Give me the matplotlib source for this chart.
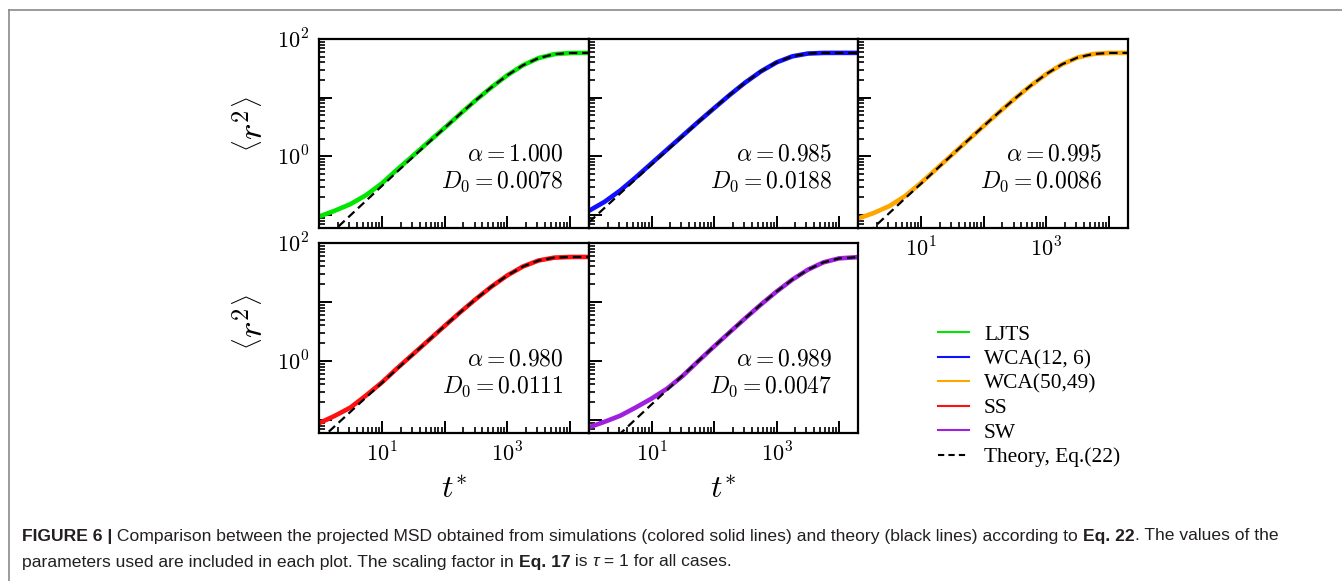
import numpy as np
import matplotlib
matplotlib.use('Agg')
import matplotlib.pyplot as plt
from matplotlib.lines import Line2D
from matplotlib.ticker import LogLocator, NullFormatter
from matplotlib.transforms import IdentityTransform
from matplotlib import font_manager

plt.rcParams['mathtext.fontset'] = 'cm'
plt.rcParams['font.family'] = 'serif'
plt.rcParams['font.serif'] = ['Liberation Serif', 'DejaVu Serif']

# ---------------- data ----------------
t_star = [1, 1.778, 3.162, 5.623, 10, 17.78, 31.62, 56.23, 100, 177.8, 316.2,
          562.3, 1000, 1778, 3162, 5623, 10000, 20000]

ljts_sim = [0.094, 0.118, 0.153, 0.218, 0.345, 0.60, 1.03, 1.78, 3.05, 5.29,
            9.08, 15.1, 24.1, 35.7, 47.4, 55.2, 57.7, 58.0]
ljts_theory = [0.0312, 0.0555, 0.0986, 0.175, 0.311, 0.552, 0.979, 1.728, 3.04,
               5.29, 9.08, 15.1, 24.1, 35.7, 47.4, 55.2, 57.7, 58.0]

wca126_sim = [0.118, 0.168, 0.262, 0.44, 0.76, 1.31, 2.26, 3.9, 6.61, 11.13,
              18.18, 28.1, 40.0, 50.6, 56.5, 57.9, 58.0, 58.0]
wca126_theory = [0.0752, 0.1325, 0.2332, 0.4108, 0.722, 1.266, 2.215, 3.85, 6.61,
                 11.13, 18.18, 28.1, 40.0, 50.6, 56.5, 57.9, 58.0, 58.0]

wca5049_sim = [0.087, 0.108, 0.142, 0.21, 0.35, 0.61, 1.07, 1.87, 3.27, 5.67,
               9.66, 16.0, 25.3, 37.0, 48.4, 55.6, 57.8, 58.0]
wca5049_theory = [0.0344, 0.061, 0.1081, 0.1915, 0.339, 0.600, 1.060, 1.866, 3.27,
                  5.67, 9.66, 16.0, 25.3, 37.0, 48.4, 55.6, 57.8, 58.0]

ss_sim = [0.088, 0.117, 0.162, 0.26, 0.43, 0.76, 1.31, 2.26, 3.91, 6.70, 11.25,
          18.3, 28.2, 40.0, 50.6, 56.5, 57.9, 58.0]
ss_theory = [0.0444, 0.078, 0.137, 0.2407, 0.4225, 0.741, 1.296, 2.259, 3.91, 6.70,
             11.25, 18.3, 28.2, 40.0, 50.6, 56.5, 57.9, 58.0]

sw_sim = [0.075, 0.093, 0.118, 0.163, 0.23, 0.34, 0.56, 1.0, 1.76, 3.07, 5.32,
          9.07, 15.05, 23.9, 35.3, 47.0, 54.9, 57.6]
sw_theory = [0.0188, 0.0332, 0.0587, 0.1037, 0.183, 0.3228, 0.5695, 1.002, 1.761,
             3.07, 5.32, 9.07, 15.05, 23.9, 35.3, 47.0, 54.9, 57.6]

series_names = ['LJTS', 'WCA(12, 6)', 'WCA(50,49)', 'SS', 'SW']
series_colors = ['#00e600', '#1010ff', '#ffa500', '#ff1010', '#a020e0']
alpha_labels = [r'$\alpha = 1.000$', r'$\alpha = 0.985$', r'$\alpha = 0.995$',
                r'$\alpha = 0.980$', r'$\alpha = 0.989$']
d0_labels = [r'$D_0 = 0.0078$', r'$D_0 = 0.0188$', r'$D_0 = 0.0086$',
             r'$D_0 = 0.0111$', r'$D_0 = 0.0047$']
theory_label = 'Theory, Eq.(22)'

x_major = [10, 100, 1000, 10000]
x_labels = ['$10^1$', '', '$10^3$', '']
y_major = [0.1, 1, 10, 100]
y_labels = ['', '$10^0$', '', '$10^2$']

sims = [ljts_sim, wca126_sim, wca5049_sim, ss_sim, sw_sim]
theories = [ljts_theory, wca126_theory, wca5049_theory, ss_theory, sw_theory]

# ---------------- layout ----------------
W, H = 1342, 581
fig = plt.figure(figsize=(W / 100, H / 100), dpi=100)
fig.patch.set_facecolor('white')


def rect(x0, y0, x1, y1):
    return [x0 / W, 1 - y1 / H, (x1 - x0) / W, (y1 - y0) / H]


panel_rects = [(319, 39, 589, 228), (589, 39, 858, 228), (858, 39, 1128, 228),
               (319, 243, 589, 433), (589, 243, 858, 433)]
show_ylab = [True, False, False, True, False]
show_xlab = [False, False, True, True, True]

for i in range(5):
    ax = fig.add_axes(rect(*panel_rects[i]))
    ax.set_xscale('log')
    ax.set_yscale('log')
    ax.plot(t_star, sims[i], color=series_colors[i], lw=3.3, solid_capstyle='butt', zorder=2)
    ax.plot(t_star, theories[i], color='black', lw=1.6, dashes=(3.8, 2.2), zorder=3)
    ax.set_xlim(1, 20000)
    ax.set_ylim(0.06, 100)
    ax.set_xticks(x_major)
    ax.set_xticklabels(x_labels)
    ax.set_yticks(y_major)
    ax.set_yticklabels(y_labels)
    ax.xaxis.set_minor_locator(LogLocator(base=10, subs=np.arange(2, 10), numticks=20))
    ax.yaxis.set_minor_locator(LogLocator(base=10, subs=np.arange(2, 10), numticks=20))
    ax.xaxis.set_minor_formatter(NullFormatter())
    ax.yaxis.set_minor_formatter(NullFormatter())
    ax.tick_params(which='both', direction='in', top=False, right=False,
                   labelleft=show_ylab[i], labelbottom=show_xlab[i],
                   labelsize=16, pad=7)
    ax.tick_params(which='major', length=9, width=1.4)
    ax.tick_params(which='minor', length=4.5, width=1.2)
    for sp in ax.spines.values():
        sp.set_linewidth(1.6)
    ax.text(0.905, 0.386, alpha_labels[i], transform=ax.transAxes, ha='right',
            va='center', fontsize=17)
    ax.text(0.905, 0.243, d0_labels[i], transform=ax.transAxes, ha='right',
            va='center', fontsize=17)

# axis labels
for yc in (124, 322):
    fig.text(254 / W, 1 - yc / H, r'$\left\langle r^2 \right\rangle$', rotation=90,
             ha='center', va='center', fontsize=25)
for xc in (454, 723):
    fig.text(xc / W, 1 - 490 / H, r'$t^{*}$', ha='center', va='center', fontsize=23)

# legend
handles = [Line2D([], [], color=c, lw=1.5) for c in series_colors]
handles.append(Line2D([], [], color='black', lw=1.5, dashes=(3, 2)))
fig.legend(handles, series_names + [theory_label], loc='upper left',
           bbox_to_anchor=(938 / W, 1 - 325 / H), frameon=False,
           prop={'family': 'Liberation Serif', 'size': 15.4},
           handlelength=1.45, handletextpad=0.7, labelspacing=0.21,
           borderpad=0.0, borderaxespad=0.0)

# outer frame (left and top border)
fig.add_artist(Line2D([9 / W, 9 / W], [0, 1 - 10 / H], transform=fig.transFigure,
                      color='#8a8a8a', lw=1.2))
fig.add_artist(Line2D([9 / W, 1], [1 - 10 / H, 1 - 10 / H], transform=fig.transFigure,
                      color='#8a8a8a', lw=1.2))

# caption
available = {f.name for f in font_manager.fontManager.ttflist}
cap_family = 'Liberation Sans Narrow' if 'Liberation Sans Narrow' in available else 'Liberation Sans'

line1 = [('FIGURE 6 |', 'bold', 'normal'),
         (' Comparison between the projected MSD obtained from simulations (colored solid lines) and theory (black lines) according to ', 'normal', 'normal'),
         ('Eq. 22', 'bold', 'normal'),
         ('. The values of the', 'normal', 'normal')]
line2 = [('parameters used are included in each plot. The scaling factor in ', 'normal', 'normal'),
         ('Eq. 17', 'bold', 'normal'),
         (' is ', 'normal', 'normal'),
         ('\u03c4', 'normal', 'italic'),
         (' = 1 for all cases.', 'normal', 'normal')]

fig.canvas.draw()
renderer = fig.canvas.get_renderer()


def put_runs(runs, x0, yc, fs):
    x = x0
    made = []
    for txt, wt, st in runs:
        fam = cap_family if st == 'normal' else 'Liberation Sans'
        tt = fig.text(x, H - yc, txt, transform=IdentityTransform(), fontsize=fs,
                      fontweight=wt, style=st, family=fam,
                      color='#231f20', ha='left', va='center')
        made.append(tt)
        bb = tt.get_window_extent(renderer)
        x = bb.x1
    return made, x - x0


base_fs = 12.0
made, w1 = put_runs(line1, 22, 536, base_fs)
for m in made:
    m.remove()
cap_fs = base_fs * 1258 / w1
put_runs(line1, 22, 536, cap_fs)
put_runs(line2, 22, 562, cap_fs)

fig.savefig('out.png', dpi=100, facecolor='white')
